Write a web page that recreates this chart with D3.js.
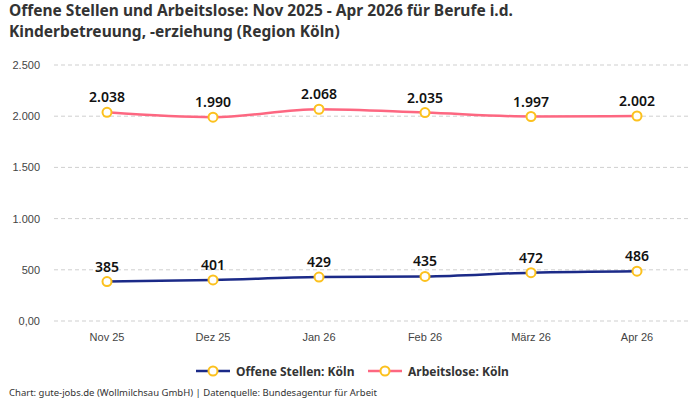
<!DOCTYPE html>
<html>
<head>
<meta charset="utf-8">
<script src="https://d3js.org/d3.v7.min.js"></script>
<style>
  body { margin: 0; background: #fff; font-family: "Noto Sans", sans-serif; }
  .title { font-size: 15.5px; font-weight: bold; fill: #333; }
  .tick text { font-size: 11px; fill: #444; font-family: "Liberation Sans", sans-serif; }
  .grid line { stroke: #cfcfcf; stroke-dasharray: 4 3; }
  .vlabel { font-size: 14px; font-weight: 600; fill: #111; }
  .legend { font-size: 12px; font-weight: bold; fill: #333; }
  .footer { font-size: 9.5px; fill: #333; }
</style>
</head>
<body>
<div id="chart"></div>
<script>
const months = ["Nov 25", "Dez 25", "Jan 26", "Feb 26", "März 26", "Apr 26"];
const offeneStellen = [385, 401, 429, 435, 472, 486];
const arbeitslose = [2038, 1990, 2068, 2035, 1997, 2002];
const yTicks = [0, 500, 1000, 1500, 2000, 2500];
const titleLines = [
  "Offene Stellen und Arbeitslose: Nov 2025 - Apr 2026 für Berufe i.d.",
  "Kinderbetreuung, -erziehung (Region Köln)"
];

const W = 700, H = 400;
const plotLeft = 54, plotRight = 690, plotTop = 65, plotBottom = 321;

const svg = d3.select("#chart").append("svg")
  .attr("width", W).attr("height", H);

// title, two separate lines
svg.append("g").selectAll("text").data(titleLines).join("text")
  .attr("class", "title")
  .attr("x", 9)
  .attr("y", (d, i) => 16 + i * 21)
  .text(d => d);

const x = d3.scaleBand().domain(months).range([plotLeft, plotRight]);
const y = d3.scaleLinear().domain([0, 2500]).range([plotBottom, plotTop]);

const de = d3.formatLocale({ decimal: ",", thousands: ".", grouping: [3], currency: ["", " €"] });
const fmt = de.format(",");

// grid + y axis
svg.append("g").attr("class", "grid")
  .selectAll("line").data(yTicks).join("line")
  .attr("x1", plotLeft).attr("x2", plotRight)
  .attr("y1", d => y(d)).attr("y2", d => y(d));

svg.append("g")
  .attr("transform", `translate(${plotLeft},0)`)
  .call(d3.axisLeft(y).tickValues(yTicks).tickSize(0).tickPadding(14)
    .tickFormat(d => d === 0 ? "0,00" : fmt(d)))
  .call(g => g.select(".domain").remove());

svg.append("g")
  .attr("transform", `translate(0,${plotBottom})`)
  .call(d3.axisBottom(x).tickSize(0).tickPadding(12))
  .call(g => g.select(".domain").remove());

const cx = d => x(d) + x.bandwidth() / 2;

function drawSeries(values, color) {
  const pts = months.map((m, i) => [cx(m), y(values[i]), values[i]]);
  svg.append("path")
    .datum(pts)
    .attr("fill", "none")
    .attr("stroke", color)
    .attr("stroke-width", 2.5)
    .attr("d", d3.line().curve(d3.curveMonotoneX).x(d => d[0]).y(d => d[1]));
  svg.append("g").selectAll("circle").data(pts).join("circle")
    .attr("cx", d => d[0]).attr("cy", d => d[1]).attr("r", 4.5)
    .attr("fill", "#fff").attr("stroke", "#fcc11e").attr("stroke-width", 2);
  svg.append("g").selectAll("text").data(pts).join("text")
    .attr("class", "vlabel")
    .attr("text-anchor", "middle")
    .attr("x", d => d[0]).attr("y", d => d[1] - 10)
    .text(d => fmt(d[2]));
}

drawSeries(arbeitslose, "#fd6781");
drawSeries(offeneStellen, "#1b2a88");

// legend
const legend = [
  { name: "Offene Stellen: Köln", color: "#1b2a88", x: 196 },
  { name: "Arbeitslose: Köln", color: "#fd6781", x: 368 }
];
const lg = svg.append("g").selectAll("g").data(legend).join("g")
  .attr("transform", d => `translate(${d.x},371)`);
lg.append("line").attr("x1", 0).attr("x2", 34).attr("y1", 0).attr("y2", 0)
  .attr("stroke", d => d.color).attr("stroke-width", 2.5);
lg.append("circle").attr("cx", 17).attr("cy", 0).attr("r", 4.5)
  .attr("fill", "#fff").attr("stroke", "#fcc11e").attr("stroke-width", 2);
lg.append("text").attr("class", "legend").attr("x", 40).attr("y", 4.5)
  .text(d => d.name);

svg.append("text").attr("class", "footer").attr("x", 9).attr("y", 396)
  .text("Chart: gute-jobs.de (Wollmilchsau GmbH) | Datenquelle: Bundesagentur für Arbeit");
</script>
</body>
</html>
